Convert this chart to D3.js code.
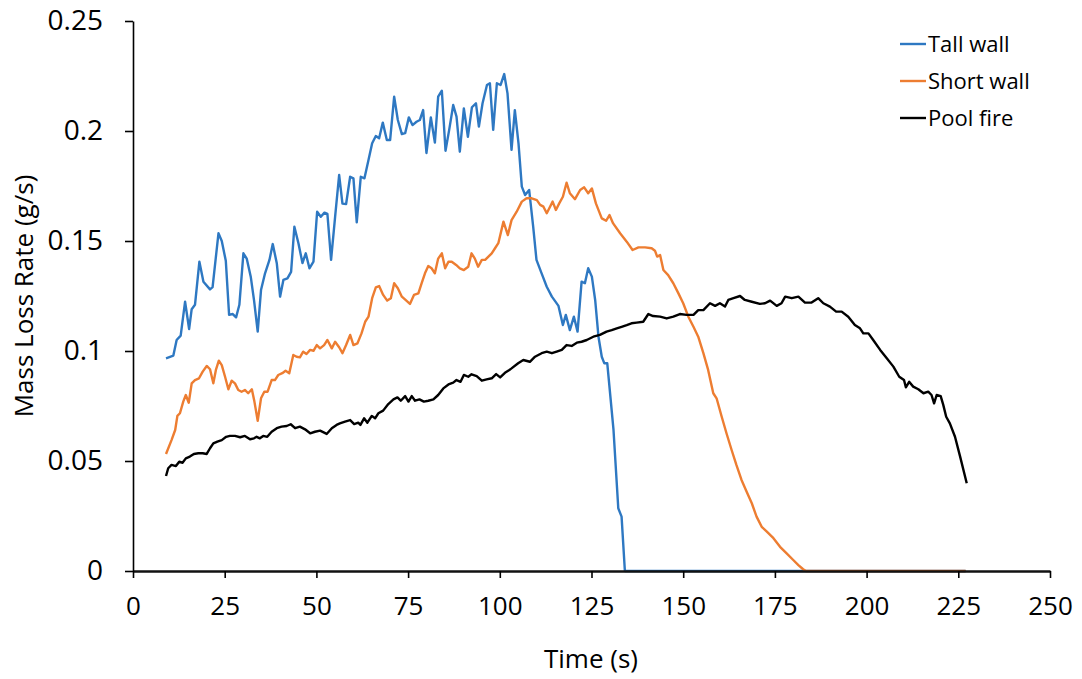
<!DOCTYPE html>
<html>
<head>
<meta charset="utf-8">
<script src="https://cdn.jsdelivr.net/npm/d3@7"></script>
<style>
  html, body { margin: 0; padding: 0; background: #fff; }
  svg { display: block; }
  text { font-family: "Open Sans", "Noto Sans", sans-serif; fill: #000; }
</style>
</head>
<body>
<svg id="chart" width="1082" height="679"></svg>
<script>
// Mass loss rate measurements, [time (s), rate (g/s)]
const tallWall = [
  [9.0,.0967],[11.0,.0979],[11.9,.105],[13.0,.107],[14.2,.1224],[15.3,.110],[16.0,.119],[16.9,.121],
  [18.1,.1406],[19.2,.1315],[21.0,.128],[21.7,.129],[23.3,.1535],[24.2,.150],[25.3,.141],[26.2,.1164],
  [27.2,.1168],[28.1,.1153],[29.0,.121],[30.1,.1444],[31.0,.142],[32.1,.1338],[33.0,.123],[34.0,.1088],
  [34.9,.1277],[36.0,.1353],[37.2,.1414],[38.1,.1486],[39.2,.1399],[40.1,.1247],[41.0,.1323],[42.1,.133],
  [43.1,.136],[44.0,.1565],[45.1,.149],[46.2,.140],[47.1,.1444],[48.1,.1376],[49.2,.1406],[50.2,.1633],
  [51.2,.161],[52.2,.1629],[53.0,.1623],[54.0,.1414],[55.1,.161],[56.2,.180],[57.1,.167],[58.1,.1668],
  [59.2,.1792],[60.1,.1785],[61.0,.1585],[62.1,.1792],[63.1,.1785],[64.2,.1868],[65.2,.1944],[66.2,.1977],
  [67.1,.1967],[68.1,.2038],[69.2,.1959],[70.1,.1959],[71.2,.2156],[72.2,.205],[73.3,.1986],[74.2,.199],
  [75.2,.2062],[76.2,.2027],[77.3,.2042],[78.2,.205],[79.1,.2095],[80.0,.190],[81.2,.2062],[82.3,.1947],
  [83.2,.2156],[84.2,.2183],[85.2,.191],[86.2,.2005],[87.3,.2118],[88.2,.2065],[89.1,.1906],[90.2,.2103],
  [91.3,.1974],[92.4,.2108],[93.5,.2126],[94.3,.202],[95.3,.2126],[96.5,.2209],[97.3,.2217],[98.2,.2005],
  [99.2,.2217],[100.2,.2209],[101.2,.2259],[102.1,.2171],[103.2,.1914],[104.1,.2095],[105.1,.1944],[106.0,.1747],
  [106.9,.1709],[108.0,.1732],[109.1,.1565],[110.0,.1414],[111.4,.1353],[112.8,.1292],[114.2,.1247],[116.0,.1205],
  [117.2,.1118],[118.0,.1164],[119.1,.1095],[120.2,.1156],[121.2,.1088],[122.3,.1315],[123.2,.1308],[124.1,.1376],
  [125.1,.1338],[126.0,.1232],[126.9,.1065],[127.8,.0974],[128.5,.0944],[129.3,.0944],[131.0,.0641],[132.3,.0285],
  [133.2,.0247],[134.1,0],[227.0,0]
];

const shortWall = [
  [9.0,.0532],[10.5,.0595],[11.5,.0641],[12.1,.0705],[12.8,.0717],[13.7,.077],[14.4,.080],[15.2,.0765],
  [16.0,.0853],[16.9,.0868],[18.0,.0876],[19.0,.0906],[20.1,.0932],[21.0,.0917],[21.9,.0853],[22.6,.0914],
  [23.4,.0956],[24.2,.0936],[25.1,.0883],[26.0,.0826],[26.9,.0865],[27.8,.0853],[28.7,.0823],[29.6,.0815],
  [30.5,.0823],[31.4,.0808],[32.4,.0826],[33.1,.077],[34.0,.0683],[34.9,.0785],[35.8,.0815],[36.7,.0815],
  [37.8,.0868],[38.7,.0868],[39.6,.0891],[40.7,.0899],[41.6,.091],[42.6,.0899],[43.7,.0982],[44.6,.0974],
  [45.5,.0971],[46.4,.0997],[47.3,.0986],[48.3,.1005],[49.2,.1001],[50.1,.1027],[51.0,.1012],[52.1,.1027],
  [53.0,.105],[54.2,.1012],[55.1,.1042],[56.2,.1017],[57.1,.099],[58.1,.1027],[59.2,.1073],[60.1,.1027],
  [61.2,.1035],[62.3,.108],[63.3,.1133],[64.2,.1156],[65.2,.124],[66.2,.1289],[67.1,.1295],[68.2,.1255],
  [69.3,.1229],[70.3,.124],[71.2,.1308],[72.2,.1285],[73.3,.1247],[74.3,.1232],[75.5,.1214],[76.6,.1255],
  [77.8,.1262],[78.7,.1308],[79.6,.1353],[80.5,.1386],[81.4,.1376],[82.3,.1353],[83.2,.142],[84.2,.1444],
  [85.1,.1376],[86.0,.1406],[86.9,.1406],[88.1,.1391],[89.1,.1376],[90.2,.1368],[91.4,.1383],[92.3,.1444],
  [93.2,.142],[94.1,.1383],[95.1,.1414],[96.0,.1414],[96.9,.1429],[97.8,.1444],[98.7,.1467],[99.6,.149],
  [101.0,.1588],[102.2,.1527],[103.2,.1595],[104.6,.1633],[106.0,.1679],[107.3,.1694],[108.7,.1694],[110.1,.1686],
  [111.0,.1664],[111.9,.1656],[112.8,.1626],[113.7,.1656],[114.4,.1679],[115.3,.1641],[116.2,.1671],[117.2,.1701],
  [118.2,.1765],[119.1,.1717],[120.5,.169],[121.9,.1732],[123.0,.1744],[124.1,.1717],[125.1,.1739],[126.2,.1671],
  [127.8,.1603],[129.0,.1592],[129.9,.1618],[130.9,.158],[132.8,.1535],[134.6,.1497],[136.2,.1459],[137.8,.1471],
  [139.6,.1471],[141.4,.1467],[142.3,.1456],[142.9,.1429],[143.7,.1436],[144.6,.1368],[145.9,.1345],[147.3,.1308],
  [148.7,.1262],[150.0,.1217],[151.4,.1156],[152.8,.111],[154.1,.1065],[155.5,.099],[156.8,.0914],[158.2,.0808],
  [159.1,.0785],[160.5,.0701],[161.8,.0626],[163.2,.055],[164.5,.0482],[165.9,.0414],[167.3,.036],[168.7,.0308],
  [170.0,.0247],[171.4,.0201],[172.8,.0179],[174.6,.0149],[176.4,.011],[178.2,.008],[180.0,.005],[181.4,.0027],
  [182.7,.0008],[183.5,0],[227.0,0]
];

const poolFire = [
  [9.0,.0432],[9.6,.0467],[10.5,.0482],[11.7,.0477],[12.6,.0497],[13.5,.0492],[14.4,.0512],[15.5,.052],
  [16.6,.0532],[17.8,.0535],[19.0,.0535],[20.1,.0532],[21.0,.0558],[21.9,.058],[23.0,.0588],[24.2,.0595],
  [25.4,.061],[26.4,.0614],[27.8,.0614],[29.2,.0608],[30.5,.0614],[31.9,.0599],[33.0,.0603],[33.7,.061],
  [34.6,.0603],[35.5,.0614],[36.6,.061],[37.8,.0633],[39.2,.0649],[40.5,.0656],[41.9,.0659],[43.0,.0667],
  [44.2,.0649],[45.5,.0656],[46.9,.0644],[48.3,.0626],[49.6,.0633],[51.0,.0638],[52.8,.0623],[54.2,.0649],
  [55.5,.0664],[56.4,.0671],[57.8,.0679],[59.2,.0686],[60.3,.0668],[61.4,.0674],[62.0,.0664],[63.0,.0694],
  [63.9,.0674],[65.1,.0705],[66.0,.0694],[66.9,.0717],[68.2,.0729],[69.6,.0759],[71.0,.078],[72.1,.0789],
  [73.0,.0774],[74.2,.0795],[75.1,.077],[76.0,.0795],[76.9,.0774],[78.1,.078],[79.3,.077],[80.5,.0774],
  [81.9,.078],[83.2,.080],[84.6,.083],[86.0,.0848],[87.3,.0856],[88.2,.0868],[89.3,.086],[90.2,.0891],
  [91.4,.0883],[92.3,.0894],[93.7,.0886],[95.1,.0865],[96.4,.0871],[97.8,.0876],[99.0,.0895],[100.1,.088],
  [101.4,.0901],[102.6,.0914],[103.2,.0921],[105.0,.0944],[106.4,.0959],[108.2,.0951],[109.6,.0974],[111.4,.099],
  [112.8,.0997],[114.2,.099],[115.5,.0997],[116.9,.1005],[118.2,.1027],[119.6,.1023],[121.0,.1038],[122.3,.1042],
  [123.7,.105],[125.5,.1065],[127.3,.1073],[129.1,.1088],[130.5,.1095],[131.9,.1103],[133.2,.111],[134.6,.1118],
  [135.9,.1126],[137.3,.1129],[139.1,.1133],[140.5,.1168],[141.8,.1159],[143.7,.1156],[145.5,.1148],[147.3,.1156],
  [149.1,.1168],[150.9,.1164],[152.8,.1164],[154.1,.1186],[155.5,.1186],[157.3,.1217],[158.7,.1205],[160.0,.1217],
  [161.4,.1202],[162.3,.1232],[163.7,.124],[165.5,.125],[166.8,.1232],[168.7,.1224],[170.9,.1214],[172.3,.1217],
  [173.7,.1229],[175.5,.1205],[176.8,.1217],[177.8,.1247],[179.6,.124],[181.4,.1247],[183.2,.122],[185.0,.122],
  [186.8,.124],[188.2,.1217],[190.0,.1202],[191.7,.1179],[193.2,.1179],[195.0,.1156],[196.8,.1118],[198.2,.1103],
  [199.1,.108],[200.5,.108],[201.8,.105],[203.7,.1005],[205.5,.0967],[207.3,.0929],[208.9,.0883],[210.2,.0868],
  [210.7,.0835],[211.6,.086],[212.7,.0838],[214.1,.0826],[215.5,.0808],[216.8,.0815],[217.7,.080],[218.4,.0762],
  [219.1,.080],[220.2,.0795],[220.9,.0755],[221.7,.0701],[222.7,.0671],[224.1,.061],[225.5,.052],[227.3,.0399]
];

const seriesNames = ["Tall wall", "Short wall", "Pool fire"];
const seriesColors = ["#2E78C2", "#ED7D31", "#000000"];
const xTicks = [0, 25, 50, 75, 100, 125, 150, 175, 200, 225, 250];
const yTicks = [0, 0.05, 0.1, 0.15, 0.2, 0.25];

const svg = d3.select("#chart");

const x = d3.scaleLinear().domain([0, 250]).range([133, 1050]);
const y = d3.scaleLinear().domain([0, 0.25]).range([571, 21]);

// series lines
const line = d3.line().x(d => x(d[0])).y(d => y(d[1]));
[tallWall, shortWall, poolFire].forEach((data, i) => {
  svg.append("path")
    .datum(data)
    .attr("fill", "none")
    .attr("stroke", seriesColors[i])
    .attr("stroke-width", 2.4)
    .attr("stroke-linejoin", "round")
    .attr("d", line);
});

// axes, drawn over the lines so the zero segments sit under the baseline
const xAxis = svg.append("g")
  .attr("transform", `translate(0,${y(0)})`)
  .call(d3.axisBottom(x).tickValues(xTicks).tickSize(7).tickSizeOuter(0).tickPadding(19)
    .tickFormat(d3.format("d")));
const yAxis = svg.append("g")
  .attr("transform", `translate(${x(0)},0)`)
  .call(d3.axisLeft(y).tickValues(yTicks).tickSize(8).tickSizeOuter(0).tickPadding(22)
    .tickFormat(d => d === 0 ? "0" : String(+d.toFixed(2))));

[xAxis, yAxis].forEach(g => {
  g.selectAll(".tick line").attr("stroke", "#000").attr("stroke-width", 1.6);
  g.selectAll(".tick text")
    .style("font-family", "'Open Sans', sans-serif")
    .attr("fill", "#000");
});
xAxis.select(".domain").attr("stroke", "#111").attr("stroke-width", 2.6);
yAxis.select(".domain").attr("stroke", "#000").attr("stroke-width", 1.6);
xAxis.selectAll(".tick text").style("font-size", "26px");
yAxis.selectAll(".tick text").style("font-size", "28px");

// axis titles
svg.append("text")
  .attr("x", 591).attr("y", 668)
  .attr("text-anchor", "middle")
  .style("font-size", "26px")
  .text("Time (s)");
svg.append("text")
  .attr("transform", "translate(33,296) rotate(-90)")
  .attr("text-anchor", "middle")
  .style("font-size", "26px")
  .text("Mass Loss Rate (g/s)");

// legend
const legend = svg.append("g");
seriesNames.forEach((name, i) => {
  const yy = 44 + i * 37;
  legend.append("line")
    .attr("x1", 900).attr("x2", 926)
    .attr("y1", yy).attr("y2", yy)
    .attr("stroke", seriesColors[i]).attr("stroke-width", 2.4);
  legend.append("text")
    .attr("x", 928).attr("y", yy)
    .attr("dy", "0.35em")
    .style("font-size", "22px")
    .text(name);
});
</script>
</body>
</html>
